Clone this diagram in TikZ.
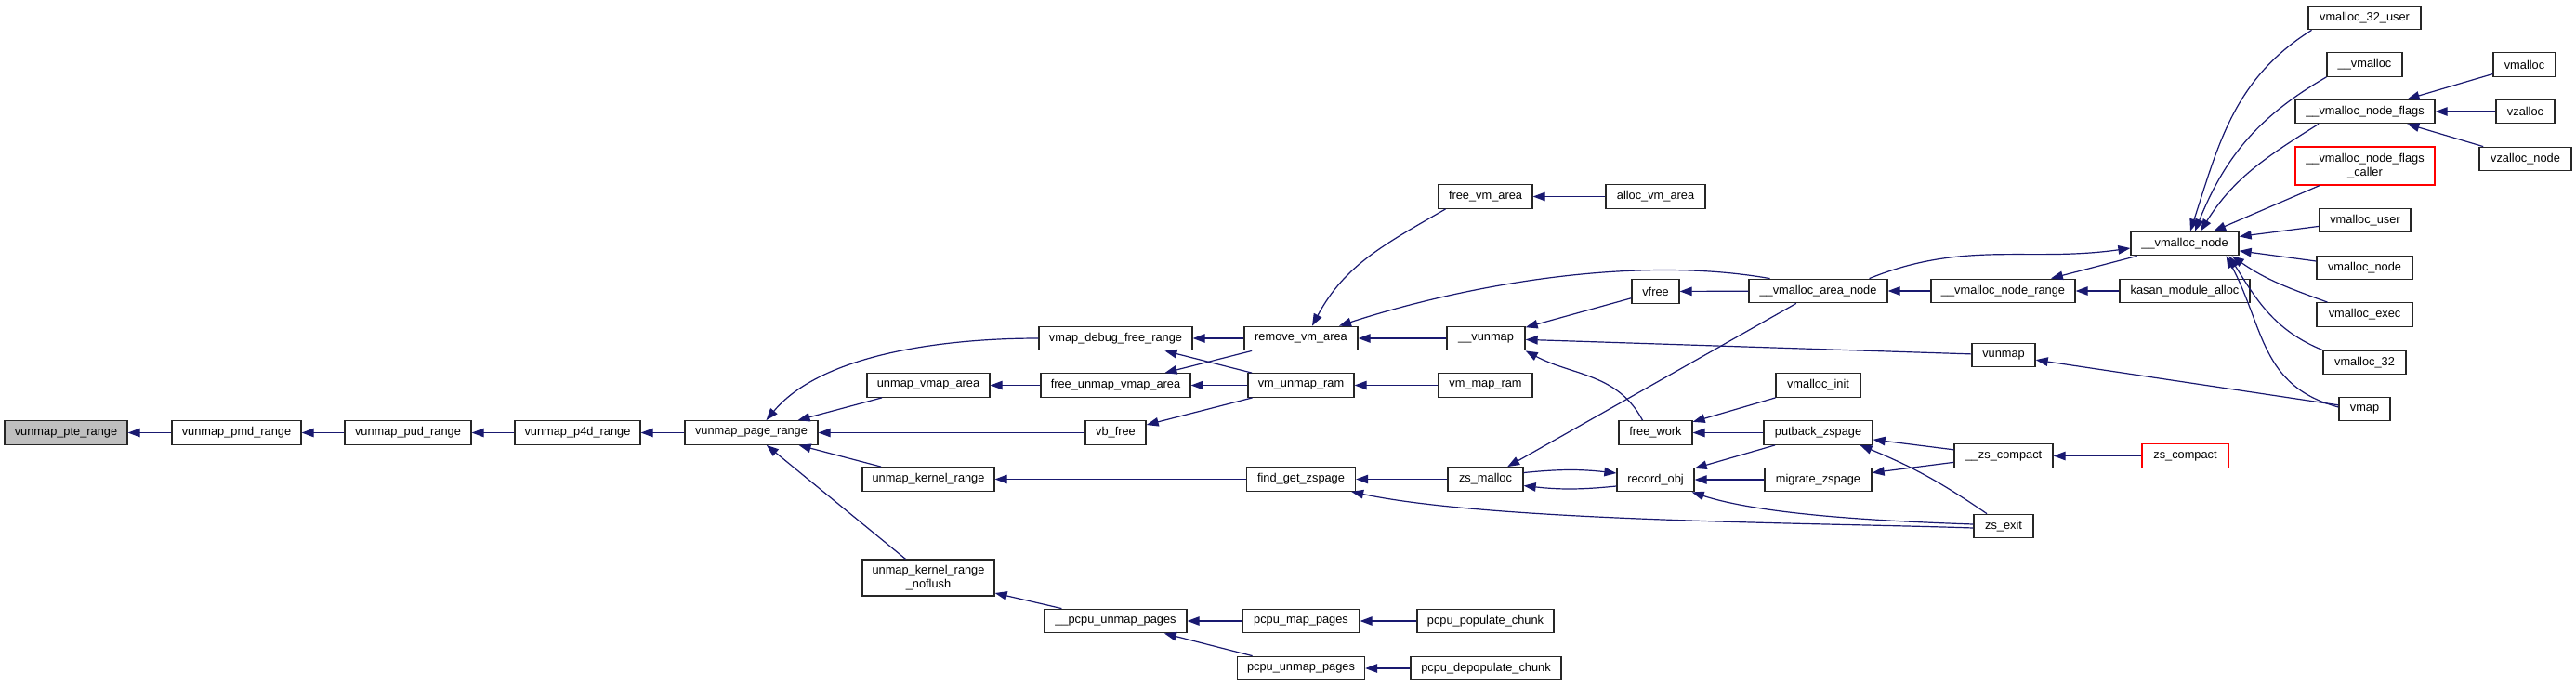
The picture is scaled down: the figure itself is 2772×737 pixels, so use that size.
\documentclass[tikz,border=0pt]{standalone}
\usepackage{fontspec}
\setmainfont{Liberation Sans}
\usetikzlibrary{arrows.meta}
\definecolor{callblue}{RGB}{25,25,112}
\definecolor{rootgray}{RGB}{191,191,191}

\begin{document}
\begin{tikzpicture}[x=1pt, y=1pt,
    fn/.style={draw=black!85, line width=1.3pt, fill=white, minimum height=25.5pt, inner xsep=2pt, inner ysep=1pt, font=\fontsize{12.8}{14.5}\selectfont},
    fnroot/.style={fn, fill=rootgray},
    fnred/.style={fn, draw=red, align=center},
    fntwo/.style={fn, align=center, minimum height=39pt},
    call/.style={{Triangle[length=13pt, width=9.5pt]}-, draw=callblue, line width=1.2pt}
]

% page
\fill[white] (0,0) rectangle (2772,-737);
\useasboundingbox (0,0) rectangle (2772,-737);

% chain
\node[fnroot, minimum width=132] (pte) at (71,-465.5) {vunmap\_pte\_range};
\node[fn, minimum width=139] (pmd) at (254.5,-465.5) {vunmap\_pmd\_range};
\node[fn, minimum width=136] (pud) at (439,-465.5) {vunmap\_pud\_range};
\node[fn, minimum width=135] (p4d) at (621.5,-465.5) {vunmap\_p4d\_range};
\node[fn, minimum width=143] (pagerange) at (808.5,-465.5) {vunmap\_page\_range};

% callers of vunmap_page_range
\node[fn, minimum width=132] (unmapvmaparea) at (999,-414.5) {unmap\_vmap\_area};
\node[fn, minimum width=142] (unmapkernel) at (999,-515.5) {unmap\_kernel\_range};
\node[fntwo, minimum width=142] (noflush) at (999,-621.5) {unmap\_kernel\_range\\\_noflush};

\node[fn, minimum width=165] (vmapdebug) at (1200.5,-364) {vmap\_debug\_free\_range};
\node[fn, minimum width=161] (freeunmap) at (1200.5,-414.5) {free\_unmap\_vmap\_area};
\node[fn, minimum width=65] (vbfree) at (1200.5,-465.5) {vb\_free};
\node[fn, minimum width=153] (pcpuunmapint) at (1200.5,-668) {\_\_pcpu\_unmap\_pages};

\node[fn, minimum width=122] (removevm) at (1400,-364) {remove\_vm\_area};
\node[fn, minimum width=114] (vmunmapram) at (1400,-414.5) {vm\_unmap\_ram};
\node[fn, minimum width=117] (findzspage) at (1400,-515.5) {find\_get\_zspage};
\node[fn, minimum width=126] (pcpumap) at (1400,-668) {pcpu\_map\_pages};
\node[fn, minimum width=137] (pcpuunmap) at (1400,-719) {pcpu\_unmap\_pages};

\node[fn, minimum width=101] (freevm) at (1598.5,-211.5) {free\_vm\_area};
\node[fn, minimum width=84] (vunmapint) at (1599,-364) {\_\_vunmap};
\node[fn, minimum width=101] (vmmapram) at (1598.5,-414.5) {vm\_map\_ram};
\node[fn, minimum width=81] (zsmalloc) at (1598.5,-515.5) {zs\_malloc};
\node[fn, minimum width=147] (populate) at (1598.5,-668) {pcpu\_populate\_chunk};
\node[fn, minimum width=162] (depopulate) at (1599,-719) {pcpu\_depopulate\_chunk};

\node[fn, minimum width=107] (allocvm) at (1781.5,-211.5) {alloc\_vm\_area};
\node[fn, minimum width=51] (vfree) at (1781.5,-313.5) {vfree};
\node[fn, minimum width=79] (freework) at (1781.5,-465.5) {free\_work};
\node[fn, minimum width=83] (recordobj) at (1781.5,-516) {record\_obj};

\node[fn, minimum width=149] (areanode) at (1956.5,-313) {\_\_vmalloc\_area\_node};
\node[fn, minimum width=91] (vmallocinit) at (1956.5,-414.5) {vmalloc\_init};
\node[fn, minimum width=117] (putback) at (1956.5,-465.5) {putback\_zspage};
\node[fn, minimum width=115] (migrate) at (1956.5,-516) {migrate\_zspage};

\node[fn, minimum width=155] (noderange) at (2155.5,-313) {\_\_vmalloc\_node\_range};
\node[fn, minimum width=68] (vunmap) at (2156,-382) {vunmap};
\node[fn, minimum width=106] (zscompactint) at (2156,-490.5) {\_\_zs\_compact};
\node[fn, minimum width=64] (zsexit) at (2156,-566) {zs\_exit};

\node[fn, minimum width=116] (vnode) at (2351,-262) {\_\_vmalloc\_node};
\node[fn, minimum width=140] (kasan) at (2351,-313) {kasan\_module\_alloc};
\node[fnred, minimum width=93] (zscompact) at (2351.5,-490.5) {zs\_compact};

% callers of __vmalloc_node
\node[fn, minimum width=121] (vm32user) at (2544.5,-19) {vmalloc\_32\_user};
\node[fn, minimum width=81] (vmallocint) at (2544.5,-69.5) {\_\_vmalloc};
\node[fn, minimum width=150] (flags) at (2545,-120) {\_\_vmalloc\_node\_flags};
\node[fnred, minimum width=150, minimum height=41] (flagscaller) at (2545,-178.5) {\_\_vmalloc\_node\_flags\\\_caller};
\node[fn, minimum width=98] (vmuser) at (2545,-237) {vmalloc\_user};
\node[fn, minimum width=103] (vmnode) at (2544.5,-288) {vmalloc\_node};
\node[fn, minimum width=103] (vmexec) at (2544.5,-338.5) {vmalloc\_exec};
\node[fn, minimum width=89] (vm32) at (2544.5,-390) {vmalloc\_32};
\node[fn, minimum width=55] (vmap) at (2544.5,-440) {vmap};

\node[fn, minimum width=67] (vmalloc) at (2716.5,-69.5) {vmalloc};
\node[fn, minimum width=63] (vzalloc) at (2717.5,-120) {vzalloc};
\node[fn, minimum width=99] (vzallocnode) at (2717.5,-171) {vzalloc\_node};

% calls, tip at callee
\draw[call] (pte) -- (pmd);
\draw[call] (pmd) -- (pud);
\draw[call] (pud) -- (p4d);
\draw[call] (p4d) -- (pagerange);
\draw[call] ([xshift=16]pagerange.north) to[out=50, in=180, looseness=0.8] (vmapdebug.west);
\draw[call] (pagerange) -- (unmapvmaparea);
\draw[call] (pagerange) -- (vbfree);
\draw[call] (pagerange) -- (unmapkernel);
\draw[call] (pagerange) -- (noflush);

\draw[call] (unmapvmaparea) -- (freeunmap);
\draw[call] (unmapkernel) -- (findzspage);
\draw[call] (noflush) -- (pcpuunmapint);

\draw[call] (vmapdebug) -- (removevm);
\draw[call] (vmapdebug) -- (vmunmapram);
\draw[call] (freeunmap) -- (removevm);
\draw[call] (freeunmap) -- (vmunmapram);
\draw[call] (vbfree) -- (vmunmapram);
\draw[call] (pcpuunmapint) -- (pcpumap);
\draw[call] (pcpuunmapint) -- (pcpuunmap);

\draw[call] ([xshift=12]removevm.north) to[out=62, in=-150] ([xshift=-43]freevm.south);
\draw[call] ([xshift=41]removevm.north) to[out=18, in=170, looseness=0.8] ([xshift=-52]areanode.north);
\draw[call] (removevm) -- (vunmapint);
\draw[call] (vmunmapram) -- (vmmapram);
\draw[call] (findzspage) -- (zsmalloc);
\draw[call] ([xshift=-5]findzspage.south east) to[out=-12, in=178, looseness=0.6] ([yshift=-2]zsexit.west);
\draw[call] (pcpumap) -- (populate);
\draw[call] (pcpuunmap) -- (depopulate);

\draw[call] (freevm) -- (allocvm);
\draw[call] (vunmapint) -- (vfree);
\draw[call] (vunmapint) -- (vunmap);
\draw[call] (vunmapint.south east) to[out=-28, in=118] ([xshift=-14]freework.north);
\draw[call] (zsmalloc) -- (areanode);
\draw[call] ([yshift=7]recordobj.west) to[bend right=6] ([yshift=7]zsmalloc.east);
\draw[call] ([yshift=-7]zsmalloc.east) to[bend right=6] ([yshift=-7]recordobj.west);

\draw[call] (vfree) -- (areanode);
\draw[call] (freework) -- (vmallocinit);
\draw[call] (freework) -- (putback);
\draw[call] (recordobj) -- (putback);
\draw[call] (recordobj) -- (migrate);
\draw[call] ([xshift=-3]recordobj.south east) to[out=-18, in=178, looseness=0.7] ([yshift=2]zsexit.west);

\draw[call] (areanode) -- (noderange);
\draw[call] ([yshift=-5]vnode.west) to[out=188, in=22] ([xshift=55]areanode.north);
\draw[call] (putback) -- (zscompactint);
\draw[call] ([xshift=45]putback.south) to[bend left=6] ([xshift=-18]zsexit.north);
\draw[call] (migrate) -- (zscompactint);

\draw[call] (noderange) -- (vnode);
\draw[call] (noderange) -- (kasan);
\draw[call] (vunmap) -- (vmap);
\draw[call] (zscompactint) -- (zscompact);

% fan into __vmalloc_node
\draw[call] ([xshift=6]vnode.north) to[out=72, in=-148] ([xshift=-57]vm32user.south);
\draw[call] ([xshift=11]vnode.north) to[out=68, in=-150] (vmallocint.south west);
\draw[call] ([xshift=17]vnode.north) to[out=58, in=-148] ([xshift=-50]flags.south);
\draw[call] (vnode) -- (flagscaller);
\draw[call] (vnode) -- (vmuser);
\draw[call] (vnode) -- (vmnode);
\draw[call] ([xshift=-8]vnode.south east) to[out=-35, in=160] ([xshift=-40]vmexec.north);
\draw[call] ([xshift=-11]vnode.south east) to[out=-58, in=158] (vm32.north west);
\draw[call] ([xshift=-14]vnode.south east) to[out=-62, in=165, looseness=1.1] ([yshift=2]vmap.west);

\draw[call] (flags) -- (vmalloc);
\draw[call] (flags) -- (vzalloc);
\draw[call] (flags) -- (vzallocnode);

\end{tikzpicture}
\end{document}
